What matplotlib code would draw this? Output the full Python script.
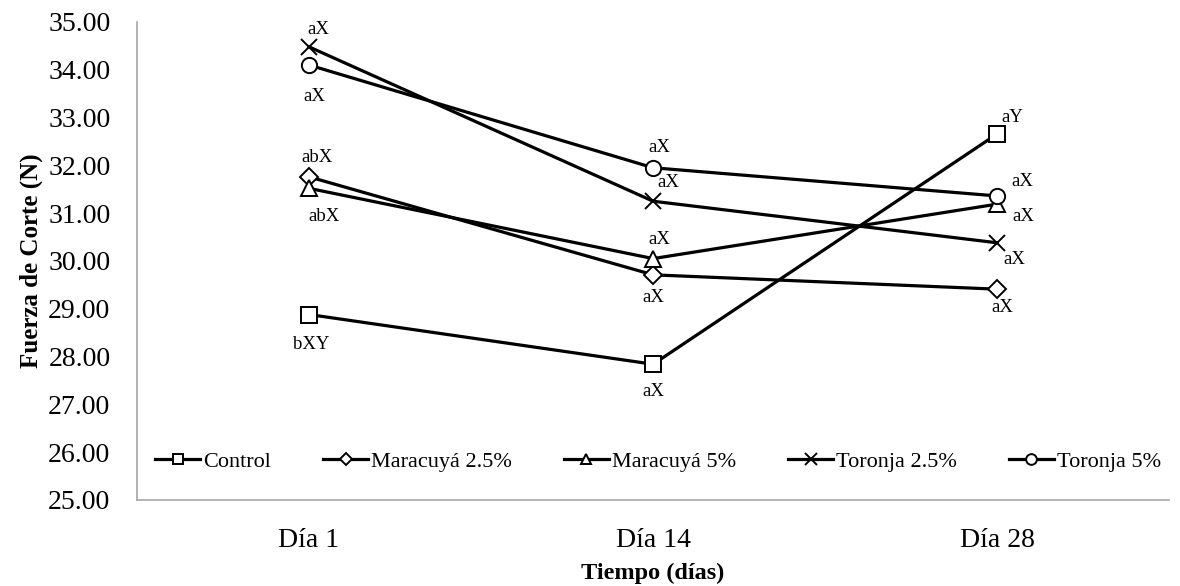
import matplotlib.pyplot as plt

plt.rcParams["font.family"] = ["Liberation Serif", "DejaVu Serif"]

days = ["Día 1", "Día 14", "Día 28"]
series_names = ["Control", "Maracuyá 2.5%", "Maracuyá 5%", "Toronja 2.5%", "Toronja 5%"]
control = [28.88, 27.84, 32.66]
maracuya_25 = [31.76, 29.71, 29.41]
maracuya_5 = [31.52, 30.05, 31.19]
toronja_25 = [34.48, 31.25, 30.38]
toronja_5 = [34.10, 31.95, 31.36]
letters = [
    ["bXY", "aX", "aY"],
    ["abX", "aX", "aX"],
    ["abX", "aX", "aX"],
    ["aX", "aX", "aX"],
    ["aX", "aX", "aX"],
]

values = [control, maracuya_25, maracuya_5, toronja_25, toronja_5]
markers = ["s", "D", "^", "x", "o"]
msizes = [11, 9, 11, 12, 11]
# label offsets in pixels (dx, dy)
offsets = [
    [(2, -30), (0, -27), (15, 16)],
    [(8, 19), (0, -23), (5, -18)],
    [(15, -28), (6, 19), (26, -12)],
    [(9, 17), (15, 19), (17, -17)],
    [(5, -32), (6, 20), (25, 14)],
]

fig = plt.figure(figsize=(11.8, 5.86), dpi=100)
ax = fig.add_axes([0.116, 0.1468, 0.875, 0.8157])

x = list(range(len(days)))
for name, vals, m, ms in zip(series_names, values, markers, msizes):
    ax.plot(x, vals, color="black", lw=2.3, marker=m, ms=ms,
            mfc="white", mec="black", mew=1.4, label=name)

for vals, labs, offs in zip(values, letters, offsets):
    for xi, v, lab, (dx, dy) in zip(x, vals, labs, offs):
        ax.annotate(lab, (xi, v), textcoords="offset points",
                    xytext=(dx * 0.72, dy * 0.72), ha="center", va="center",
                    fontsize=13.5)

ax.set_xlim(-0.5, 2.5)
ax.set_ylim(25, 35)
ax.set_xticks(x)
ax.set_xticklabels(days)
ax.set_yticks([25 + i for i in range(11)])
ax.set_yticklabels([f"{25 + i:.2f}" for i in range(11)])
ax.tick_params(axis="both", length=0, labelsize=20)
ax.tick_params(axis="x", pad=20)
ax.tick_params(axis="y", pad=19)

for s in ["top", "right"]:
    ax.spines[s].set_visible(False)
for s in ["left", "bottom"]:
    ax.spines[s].set_color("#a6a6a6")
    ax.spines[s].set_linewidth(1.2)

ax.set_xlabel("Tiempo (días)", fontsize=17.5, fontweight="bold", labelpad=7)
ax.set_ylabel("Fuerza de Corte (N)", fontsize=18, fontweight="bold", labelpad=4)

leg = ax.legend(loc="center", bbox_to_anchor=(0.505, 0.08), ncol=5,
                frameon=False, fontsize=16, handlelength=2.0, columnspacing=2.35,
                handletextpad=0.15, markerscale=0.7)

fig.savefig("out.png", dpi=100)
